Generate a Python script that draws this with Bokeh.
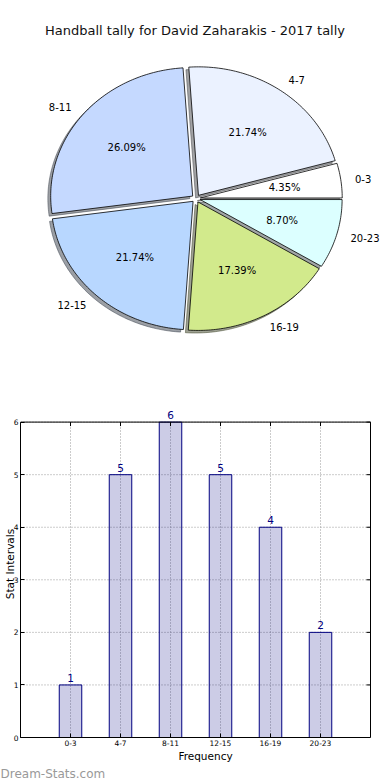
import numpy as np
from bokeh.plotting import figure
from bokeh.models import Range1d, Label, LabelSet, ColumnDataSource, FixedTicker, Title
from bokeh.layouts import column
from bokeh.embed import file_html
from bokeh.resources import INLINE
from bokeh.core.properties import value

# ---------------- data ----------------
title_text = "Handball tally for David Zaharakis - 2017 tally"
categories = ["0-3", "4-7", "8-11", "12-15", "16-19", "20-23"]
counts = [1, 5, 6, 5, 4, 2]
pie_colors = ["#FFFFFF", "#EBF2FF", "#C5D9FF", "#B8D7FF", "#D2EA8C", "#DCFFFF"]
explode = [0.03, 0.03, 0.03, 0.03, 0.03, 0.03]
y_ticks = [0, 1, 2, 3, 4, 5, 6]
x_label = "Frequency"
y_label = "Stat Intervals"
watermark = "Dream-Stats.com"

FONT = "DejaVu Sans"

# ---------------- layout constants (px) ----------------
W = 390
LEFT = 20                  # shared left border of both figures
H1 = 390
cx, cy = 195.5, 198.0      # pie centre in figure px (from left / top)
rx, ry = 142.0, 128.5      # pie radii in px

# ---------------- pie ----------------
fw1 = W - LEFT
cxf = cx - LEFT
p1 = figure(width=W, height=H1, output_backend="svg", toolbar_location=None,
            x_range=Range1d(-cxf / rx, (fw1 - cxf) / rx),
            y_range=Range1d(-(H1 - cy) / ry, cy / ry),
            x_axis_type=None, y_axis_type=None,
            min_border_left=LEFT, min_border_right=0, min_border_top=0, min_border_bottom=0)
p1.outline_line_color = None
p1.grid.visible = False

total = float(sum(counts))
fracs = np.array(counts) / total
ends = np.cumsum(fracs) * 2 * np.pi
starts = np.concatenate([[0.0], ends[:-1]])
mids = (starts + ends) / 2

xs, ys, sxs, sys_, shadow_cols = [], [], [], [], []
for a0, a1, m, e, col in zip(starts, ends, mids, explode, pie_colors):
    ox, oy = e * np.cos(m), e * np.sin(m)
    t = np.linspace(a0, a1, max(int(np.degrees(a1 - a0)), 2) + 1)
    px = np.concatenate([[ox], ox + np.cos(t)])
    py = np.concatenate([[oy], oy + np.sin(t)])
    xs.append(list(px)); ys.append(list(py))
    sxs.append(list(px - 0.02)); sys_.append(list(py - 0.02))
    r = int(col[1:3], 16); g = int(col[3:5], 16); b = int(col[5:7], 16)
    shadow_cols.append("#%02x%02x%02x" % (int(r * 0.3), int(g * 0.3), int(b * 0.3)))

p1.patches(sxs, sys_, fill_color=shadow_cols, fill_alpha=0.5,
           line_color=shadow_cols, line_alpha=0.5, line_width=1)
p1.patches(xs, ys, fill_color=pie_colors, line_color="black", line_width=0.8)

lab_l = dict(x=[], y=[], t=[])
lab_r = dict(x=[], y=[], t=[])
pct = dict(x=[], y=[], t=[])
for c, f, m, e in zip(categories, fracs, mids, explode):
    ox, oy = e * np.cos(m), e * np.sin(m)
    lx, ly = ox + 1.1 * np.cos(m), oy + 1.1 * np.sin(m)
    d = lab_l if np.cos(m) > 0 else lab_r
    d["x"].append(lx); d["y"].append(ly); d["t"].append(c)
    pct["x"].append(ox + 0.6 * np.cos(m)); pct["y"].append(oy + 0.6 * np.sin(m))
    pct["t"].append("%.2f%%" % (f * 100))

p1.text(x=lab_l["x"], y=lab_l["y"], text=lab_l["t"], text_align="left",
        text_baseline="middle", text_font=value(FONT), text_font_size="10px", text_color="black")
p1.text(x=lab_r["x"], y=lab_r["y"], text=lab_r["t"], text_align="right",
        text_baseline="middle", text_font=value(FONT), text_font_size="10px", text_color="black")
p1.text(x=pct["x"], y=pct["y"], text=pct["t"], text_align="center",
        text_baseline="middle", text_font=value(FONT), text_font_size="10px", text_color="black")

p1.add_layout(Label(x=194.5 - LEFT, y=H1 - 30, x_units="screen", y_units="screen",
                    text=title_text, text_align="center", text_baseline="middle",
                    text_font=FONT, text_font_size="13px", text_color="#111111"))

# ---------------- bars ----------------
H2 = 390
BOTTOM = 42
box_right = 370            # px from figure left where the axes box ends
box_top = 31.7             # px from figure top where y = max tick sits
n_units = len(categories) + 1
x_pos = np.arange(1, len(categories) + 1)
y_top = max(y_ticks)

px_x = (box_right - LEFT) / n_units
px_y = ((H2 - BOTTOM) - box_top) / y_top
p2 = figure(width=W, height=H2, output_backend="svg", toolbar_location=None,
            x_range=Range1d(0, (W - LEFT) / px_x),
            y_range=Range1d(0, (H2 - BOTTOM) / px_y),
            min_border_left=LEFT, min_border_right=0, min_border_top=0,
            min_border_bottom=BOTTOM)
p2.outline_line_color = None
p2.grid.visible = False

grid_kw = dict(line_color="#999999", line_dash="1 2", line_width=1)
p2.segment(x0=x_pos, y0=0, x1=x_pos, y1=y_top, **grid_kw)
p2.segment(x0=0, y0=y_ticks, x1=n_units, y1=y_ticks, **grid_kw)

p2.vbar(x=x_pos, top=counts, width=0.45, fill_color="navy", fill_alpha=0.2,
        line_color="navy", line_width=1)

# axes box and inner ticks on the top / right sides
p2.quad(left=0, right=n_units, bottom=0, top=y_top, fill_color=None,
        line_color="black", line_width=1)
p2.ray(x=n_units, y=y_ticks, length=4, length_units="screen", angle=np.pi,
       line_color="black", line_width=1)
p2.ray(x=x_pos, y=y_top, length=4, length_units="screen", angle=-np.pi / 2,
       line_color="black", line_width=1)

src = ColumnDataSource(dict(x=x_pos, top=counts, label=[str(v) for v in counts]))
p2.add_layout(LabelSet(x="x", y="top", text="label", source=src, y_offset=3,
                       text_align="center", text_baseline="bottom", text_color="navy",
                       text_font=value(FONT), text_font_size="10.5px"))

p2.xaxis.ticker = FixedTicker(ticks=list(x_pos))
p2.xaxis.major_label_overrides = {int(i): c for i, c in zip(x_pos, categories)}
p2.yaxis.ticker = FixedTicker(ticks=y_ticks)
p2.xaxis.bounds = (0, n_units)
p2.yaxis.bounds = (0, y_top)
for ax in (p2.xaxis, p2.yaxis):
    ax.major_tick_in = 4
    ax.major_tick_out = 0
    ax.minor_tick_line_color = None
    ax.major_label_text_font = FONT
    ax.major_label_text_font_size = "7.5px"
    ax.major_label_text_color = "black"
    ax.axis_label_text_font = FONT
    ax.axis_label_text_font_size = "10.5px"
    ax.axis_label_text_font_style = "normal"
    ax.axis_label_text_color = "black"
    ax.axis_line_color = "black"
    ax.major_tick_line_color = "black"
p2.xaxis.axis_label = x_label
p2.yaxis.axis_label = y_label
p2.xaxis.major_label_standoff = 2
p2.xaxis.axis_label_standoff = 1
p2.yaxis.major_label_standoff = 2
p2.yaxis.axis_label_standoff = -5

p2.add_layout(Title(text=watermark, align="left", offset=-LEFT, standoff=0,
                    text_font=FONT, text_font_size="12px", text_font_style="normal",
                    text_color="#999999"), "below")

layout = column(p1, p2, spacing=0)
open("out.html", "w").write(file_html(layout, INLINE))
